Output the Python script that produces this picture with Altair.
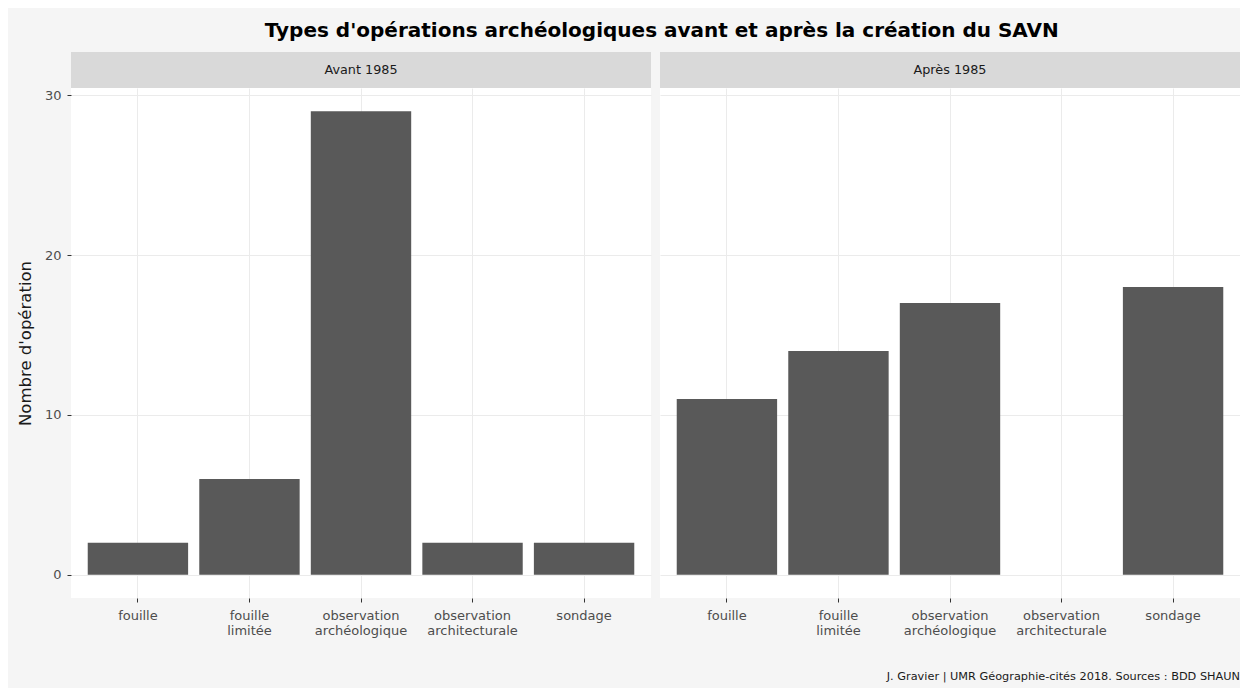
import altair as alt
import pandas as pd

categories = ["fouille", "fouille limitée", "observation archéologique",
              "observation architecturale", "sondage"]
periods = ["Avant 1985", "Après 1985"]
avant_values = [2, 6, 29, 2, 2]
apres_values = [11, 14, 17, 0, 18]
y_ticks = [0, 10, 20, 30]
title_text = "Types d'opérations archéologiques avant et après la création du SAVN"
caption_text = "J. Gravier | UMR Géographie-cités 2018. Sources : BDD SHAUN"
y_title = "Nombre d'opération"

W = 580
H = 510
FONT = "DejaVu Sans"
BAR = "#595959"
STRIP = "#D9D9D9"
GRID = "#EBEBEB"

series = [avant_values, apres_values]


def panel(i):
    df = pd.DataFrame({"type": categories, "n": series[i]})
    first = i == 0
    xscale = alt.Scale(domain=categories, paddingInner=0.1, paddingOuter=0.15)
    yscale = alt.Scale(domain=[-1.45, 30.45], nice=False, zero=False)
    xaxis = alt.Axis(
        title=None, labelAngle=0, bandPosition=0.5,
        labelExpr="split(datum.value, ' ')",
        labelFont=FONT, labelFontSize=13, labelColor="#4D4D4D",
        labelLineHeight=15, labelPadding=7,
        tickColor="#333333", tickSize=4, domain=False,
        grid=True, gridColor=GRID,
    )
    if first:
        yaxis = alt.Axis(
            title=y_title, values=y_ticks, labelFont=FONT, labelFontSize=13,
            labelColor="#4D4D4D", tickColor="#333333", tickSize=4, labelPadding=6,
            domain=False, grid=True, gridColor=GRID,
            titleFont=FONT, titleFontSize=16.5, titleFontWeight="normal",
            titleColor="#1A1A1A", titlePadding=11,
        )
    else:
        yaxis = alt.Axis(
            title=None, values=y_ticks, labels=False, ticks=False,
            domain=False, grid=True, gridColor=GRID,
        )
    bars = alt.Chart(df).mark_bar(color=BAR).encode(
        x=alt.X("type:N", scale=xscale, axis=xaxis, sort=categories),
        y=alt.Y("n:Q", scale=yscale, axis=yaxis),
        y2=alt.datum(0),
    )
    sdf = pd.DataFrame({"label": [periods[i]]})
    strip = alt.Chart(sdf).mark_rect(color=STRIP).encode(
        x=alt.value(0), x2=alt.value(W), y=alt.value(-36), y2=alt.value(0)
    )
    stext = alt.Chart(sdf).mark_text(
        font=FONT, fontSize=12.8, color="#1A1A1A", baseline="middle", align="center"
    ).encode(x=alt.value(W / 2), y=alt.value(-18), text="label:N")
    layers = [bars, strip, stext]
    if not first:
        cdf = pd.DataFrame({"c": [caption_text]})
        cap = alt.Chart(cdf).mark_text(
            font=FONT, fontSize=11.3, color="#1A1A1A", align="right", baseline="middle"
        ).encode(x=alt.value(W), y=alt.value(H + 79), text="c:N")
        layers.append(cap)
    return alt.layer(*layers).properties(width=W, height=H)


chart = alt.hconcat(panel(0), panel(1), spacing=9).properties(
    title=alt.TitleParams(
        title_text, font=FONT, fontSize=20, fontWeight="bold", color="#000000",
        anchor="middle", offset=11, dx=33,
    ),
    background="#F5F5F5",
    padding={"left": 9, "top": 13, "right": 0, "bottom": 6},
).configure_view(fill="white", stroke=None)

chart.save("out.html", embed_options={"renderer": "svg", "actions": False})
